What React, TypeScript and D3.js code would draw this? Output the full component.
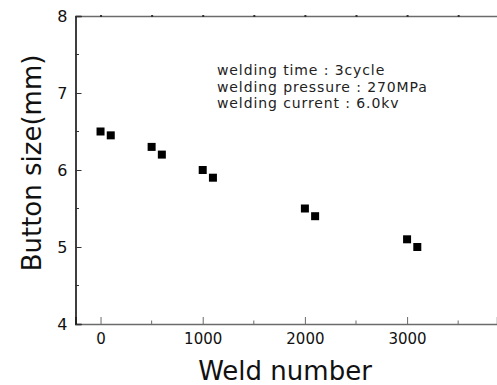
import React, { useEffect, useRef } from "react";
import * as d3 from "d3";

const weldNumbers = [0, 100, 500, 600, 1000, 1100, 2000, 2100, 3000, 3100];
const buttonSizes = [6.5, 6.45, 6.3, 6.2, 6.0, 5.9, 5.5, 5.4, 5.1, 5.0];
const xTicks = [0, 1000, 2000, 3000];
const yTicks = [4, 5, 6, 7, 8];
const notes = [
  "welding time : 3cycle",
  "welding pressure : 270MPa",
  "welding current : 6.0kv",
];

const App = () => {
  const svgRef = useRef<SVGSVGElement>(null);

  useEffect(() => {
    const svg = d3.select(svgRef.current);
    svg.selectAll("*").remove();

    const width = 497;
    const height = 385;
    const margin = { top: 16, right: 0, bottom: 61, left: 75.5 };
    const font = "'DejaVu Sans', sans-serif";

    const x = d3.scaleLinear().domain([-245, 3880]).range([margin.left, width - margin.right]);
    const y = d3.scaleLinear().domain([4, 8]).range([height - margin.bottom, margin.top]);

    const axisGray = "#6b6b6b";

    // bottom axis (gray, ticks inward)
    const bottom = svg
      .append("g")
      .attr("transform", `translate(0, ${y(4)})`)
      .call(
        d3.axisBottom(x).tickValues(xTicks).tickSize(-7).tickPadding(9).tickFormat(d3.format("d"))
      );
    bottom.select(".domain").attr("stroke", axisGray).attr("stroke-width", 1.5);
    bottom.selectAll(".tick line").attr("stroke", axisGray);
    bottom.selectAll("text").attr("fill", "#111").style("font-family", font).style("font-size", "15px");

    // minor x ticks
    svg
      .append("g")
      .selectAll("line")
      .data([500, 1500, 2500, 3500])
      .join("line")
      .attr("x1", (d) => x(d))
      .attr("x2", (d) => x(d))
      .attr("y1", y(4))
      .attr("y2", y(4) - 3.5)
      .attr("stroke", axisGray);

    // top axis
    const top = svg
      .append("g")
      .attr("transform", `translate(0, ${y(8)})`)
      .call(d3.axisTop(x).tickValues([0, 500, 1000, 1500, 2000, 2500, 3000, 3500]).tickSize(0).tickFormat(() => ""));
    top.select(".domain").attr("stroke", axisGray).attr("stroke-width", 1.5);
    top
      .selectAll(".tick")
      .append("rect")
      .attr("x", -1)
      .attr("y", -1)
      .attr("width", 2)
      .attr("height", 2)
      .attr("fill", "#333");

    // left axis (black)
    const left = svg
      .append("g")
      .attr("transform", `translate(${x(-245)}, 0)`)
      .call(d3.axisLeft(y).tickValues(yTicks).tickSize(-6).tickPadding(8).tickFormat(d3.format("d")));
    left.select(".domain").attr("stroke", "#000").attr("stroke-width", 1.5);
    left.selectAll(".tick line").attr("stroke", "#333");
    left.selectAll("text").attr("fill", "#111").style("font-family", font).style("font-size", "16px");

    svg
      .append("g")
      .selectAll("line")
      .data([4.5, 5.5, 6.5, 7.5])
      .join("line")
      .attr("x1", x(-245))
      .attr("x2", x(-245) + 3.5)
      .attr("y1", (d) => y(d))
      .attr("y2", (d) => y(d))
      .attr("stroke", "#333");

    // points
    svg
      .append("g")
      .selectAll("rect")
      .data(weldNumbers.map((w, i) => ({ w, s: buttonSizes[i] })))
      .join("rect")
      .attr("x", (d) => x(d.w) - 4)
      .attr("y", (d) => y(d.s) - 4)
      .attr("width", 8)
      .attr("height", 8)
      .attr("fill", "#000");

    // notes
    svg
      .append("g")
      .selectAll("text")
      .data(notes)
      .join("text")
      .attr("x", 217)
      .attr("y", (d, i) => 75 + i * 16.5)
      .attr("fill", "#222")
      .style("font-family", font)
      .style("font-size", "14px")
      .style("letter-spacing", "0.9px")
      .text((d) => d);

    // axis labels
    svg
      .append("text")
      .attr("x", 285)
      .attr("y", 380)
      .attr("text-anchor", "middle")
      .attr("fill", "#111")
      .style("font-family", font)
      .style("font-size", "26px")
      .text("Weld number");

    svg
      .append("text")
      .attr("transform", `translate(41, 163) rotate(-90)`)
      .attr("text-anchor", "middle")
      .attr("fill", "#111")
      .style("font-family", font)
      .style("font-size", "26px")
      .text("Button size(mm)");
  }, []);

  return <svg ref={svgRef} width={497} height={385} style={{ position: "absolute", left: 0, top: 0 }} />;
};

export default App;
